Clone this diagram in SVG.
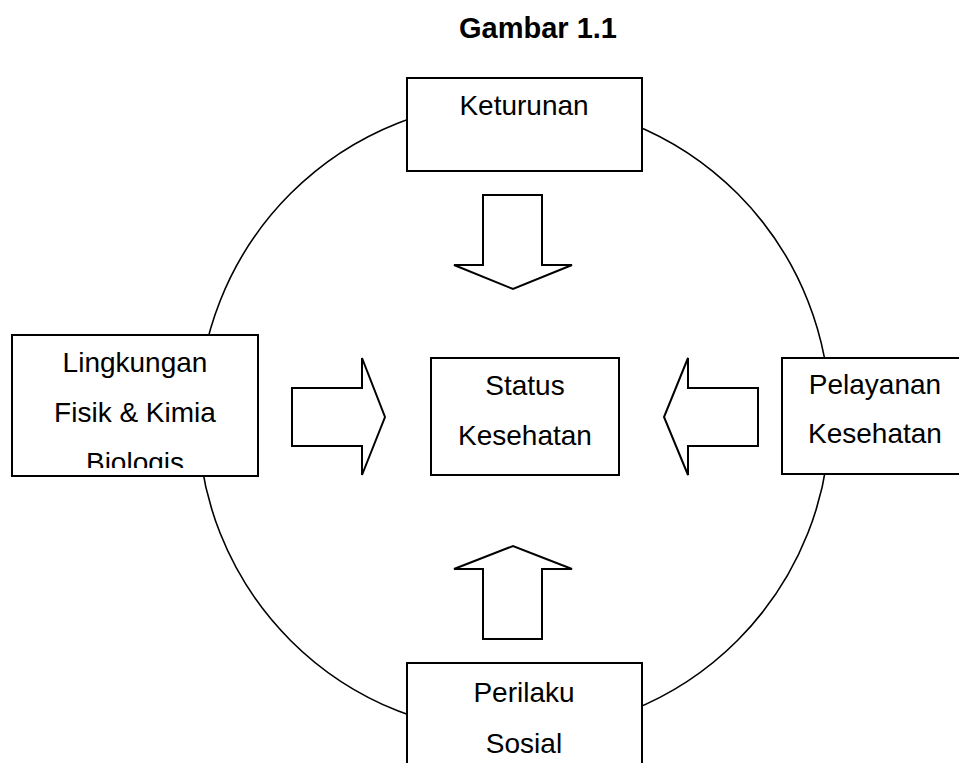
<svg xmlns="http://www.w3.org/2000/svg" width="959" height="763" viewBox="0 0 959 763">
<style>
.box{fill:#fff;stroke:#000;stroke-width:2}
.arr{fill:#fff;stroke:#000;stroke-width:2;stroke-linejoin:miter}
.t{font-family:"Liberation Sans",Arial,sans-serif;font-size:28px;fill:#000;text-anchor:middle}
.title{font-family:"Liberation Sans",Arial,sans-serif;font-size:29px;font-weight:bold;fill:#000;text-anchor:middle}
</style>
<defs>
<clipPath id="clipL"><rect x="13" y="336" width="244" height="132"/></clipPath>
</defs>
<rect width="959" height="763" fill="#fff"/>
<text class="title" x="538" y="38">Gambar 1.1</text>
<g id="connectors">
<circle cx="514" cy="417" r="316" fill="none" stroke="#000" stroke-width="1.6"/>
<path class="arr" d="M483,195 L542,195 L542,265 L572,265 L513,289 L454,265 L483,265 Z"/>
<path class="arr" d="M292,388 L362,388 L362,358 L385,417 L362,475 L362,446 L292,446 Z"/>
<path class="arr" d="M758,388 L688,388 L688,358 L664,417 L688,475 L688,446 L758,446 Z"/>
<path class="arr" d="M483,639 L542,639 L542,569 L572,569 L513,546 L454,569 L483,569 Z"/>
</g>
<g id="keturunan">
<rect class="box" x="407" y="78" width="235" height="93"/>
<text class="t" x="524" y="115">Keturunan</text>
</g>
<g id="lingkungan">
<rect class="box" x="12" y="335" width="246" height="141"/>
<g clip-path="url(#clipL)">
<text class="t" x="135" y="372">Lingkungan</text>
<text class="t" x="135" y="422">Fisik &amp; Kimia</text>
<text class="t" x="135" y="472">Biologis</text>
</g>
</g>
<g id="status">
<rect class="box" x="431" y="358" width="188" height="117"/>
<text class="t" x="525" y="395">Status</text>
<text class="t" x="525" y="445">Kesehatan</text>
</g>
<g id="pelayanan">
<rect class="box" x="782" y="358" width="180" height="116"/>
<text class="t" x="875" y="394">Pelayanan</text>
<text class="t" x="875" y="443">Kesehatan</text>
</g>
<g id="perilaku">
<rect class="box" x="407" y="663" width="235" height="110"/>
<text class="t" x="524" y="702">Perilaku</text>
<text class="t" x="524" y="753">Sosial</text>
</g>
</svg>
